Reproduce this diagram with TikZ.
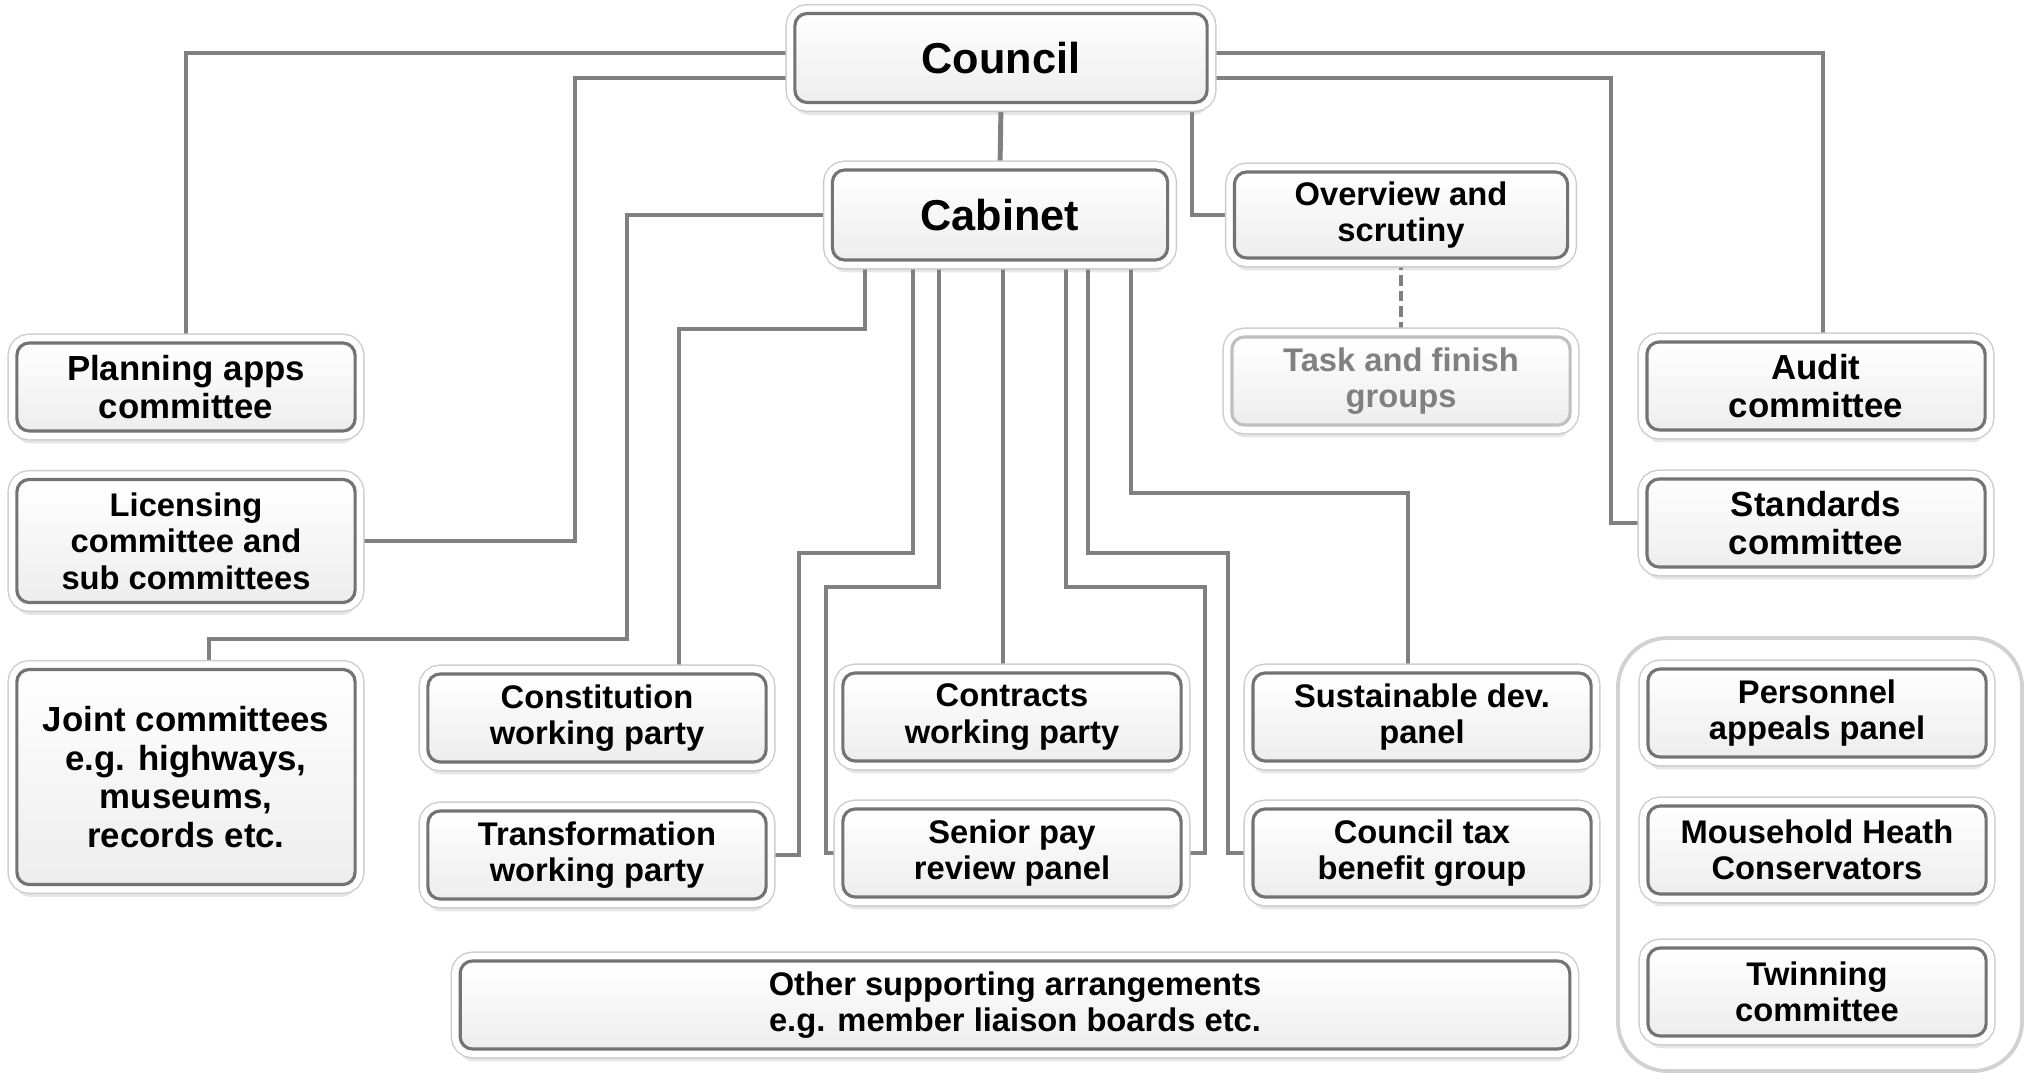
\documentclass[tikz,border=0pt]{standalone}
\usepackage{fontspec}
\setmainfont{Liberation Sans}
\usetikzlibrary{shadows,backgrounds}

\begin{document}
\begin{tikzpicture}
  [x=0.01cm, y=-0.01cm,
   link/.style={draw=black!50, line width=1.4pt},
   box/.style={rectangle, rounded corners=3.5pt, align=center,
     minimum width=3.38cm, minimum height=0.88cm, inner sep=2pt,
     font=\bfseries\fontsize{9.3}{10.4}\selectfont,
     drop shadow={opacity=0.2, shadow xshift=0pt, shadow yshift=-3.5pt},
     preaction={draw=black!20, line width=5.4pt},
     preaction={draw=white, line width=4.6pt},
     draw=black!55, line width=0.9pt, top color=white, bottom color=black!7},
   big/.style={font=\bfseries\fontsize{9.9}{11}\selectfont},
   head/.style={font=\bfseries\fontsize{12.3}{14}\selectfont}]
  \useasboundingbox (0,0) rectangle (2027,1073);

  \node[box, head, minimum width=4.12cm, minimum height=0.89cm] (council) at (1001,58) {Council};
  \node[box, head, minimum width=3.35cm, minimum height=0.9cm] (cabinet) at (1000,215) {Cabinet};
  \node[box, minimum width=3.33cm, minimum height=0.86cm] (overview) at (1401,215) {Overview and\\scrutiny};
  \node[box, draw=black!25, text=black!50] (task) at (1401,381) {Task and finish\\groups};

  \node[box, big] (planning) at (186,387) {Planning apps\\committee};
  \node[box, minimum height=1.23cm] (licensing) at (186,541) {Licensing\\committee and\\sub committees};
  \node[box, big, minimum height=2.15cm] (joint) at (186,777) {Joint committees\\e.g. highways,\\museums,\\records etc.};
  \node[box, big] (audit) at (1816,386) {Audit\\committee};
  \node[box, big] (standards) at (1816,523) {Standards\\committee};

  \node[box] (constitution) at (597,718) {Constitution\\working party};
  \node[box] (transformation) at (597,855) {Transformation\\working party};
  \node[box] (contracts) at (1012,717) {Contracts\\working party};
  \node[box] (seniorpay) at (1012,853) {Senior pay\\review panel};
  \node[box] (sustain) at (1422,717) {Sustainable dev.\\panel};
  \node[box] (counciltax) at (1422,853) {Council tax\\benefit group};

  \node[box] (personnel) at (1817,713) {Personnel\\appeals panel};
  \node[box] (mousehold) at (1817,850) {Mousehold Heath\\Conservators};
  \node[box] (twinning) at (1817,992) {Twinning\\committee};
  \node[box, minimum width=11.09cm] (other) at (1015,1005) {Other supporting arrangements\\e.g. member liaison boards etc.};

  \begin{pgfonlayer}{background}
    % council
    \draw[link] (council.west |- 0,53) -| (planning.north);
    \draw[link] (council.west |- 0,78) -| (575,0 |- licensing.east) -- (licensing.east);
    \draw[link] (council.east |- 0,53) -| (1823,0 |- audit.north);
    \draw[link] (council.east |- 0,78) -| (1611,0 |- standards.west) -- (standards.west);
    \draw[link] (council.south) -- (cabinet.north);
    \draw[link] (council.south -| 1192,0) |- (overview.west);
    \draw[link, dash pattern=on 3pt off 1.4pt] (overview.south) -- (task.north);
    % cabinet
    \draw[link] (cabinet.west) -| (627,639) -| (209,0 |- joint.north);
    \draw[link] (865,0 |- cabinet.south) |- (679,329) -- (679,0 |- constitution.north);
    \draw[link] (913,0 |- cabinet.south) |- (799,553) |- (transformation.east);
    \draw[link] (939,0 |- cabinet.south) |- (826,587) |- (seniorpay.west);
    \draw[link] (1003,0 |- cabinet.south) -- (1003,0 |- contracts.north);
    \draw[link] (1066,0 |- cabinet.south) |- (1205,587) |- (seniorpay.east);
    \draw[link] (1088,0 |- cabinet.south) |- (1228,553) |- (counciltax.west);
    \draw[link] (1131,0 |- cabinet.south) |- (1408,493) -- (1408,0 |- sustain.north);
    % group on the right
    \draw[black!18, line width=1.1pt, rounded corners=14pt] (1618,638) rectangle (2022,1071);
  \end{pgfonlayer}
\end{tikzpicture}
\end{document}
